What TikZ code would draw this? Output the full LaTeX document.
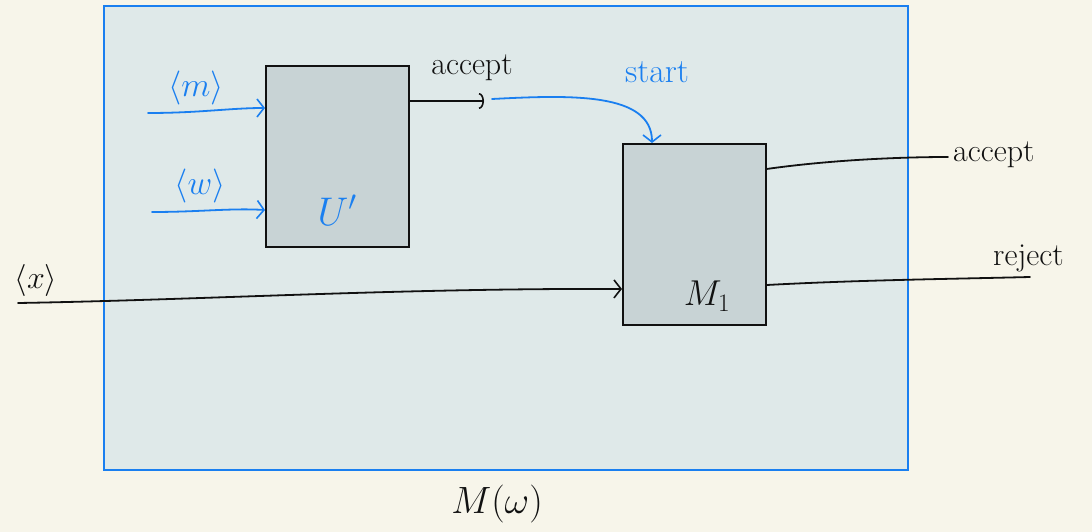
\RequirePackage{fix-cm}
\documentclass[tikz,border=0pt]{standalone}
\usetikzlibrary{arrows.meta}
\definecolor{bgcream}{HTML}{F7F5EA}
\definecolor{outerfill}{HTML}{DFE9E9}
\definecolor{boxfill}{HTML}{C8D3D5}
\definecolor{penblue}{HTML}{1A7FF0}
\definecolor{penblack}{HTML}{111111}
\tikzset{
  machine/.style={draw=penblack, line width=1.6pt, fill=boxfill, minimum width=143pt, minimum height=181pt, inner sep=0pt, anchor=north west},
  bluewire/.style={draw=penblue, line width=1.8pt, line cap=round, -{Straight Barb[length=7pt,width=18pt,line width=1.6pt]}},
  blackwire/.style={draw=penblack, line width=1.8pt, line cap=round},
  blacktip/.style={-{Straight Barb[length=7pt,width=18pt,line width=1.6pt]}},
  bluelbl/.style={text=penblue, font=\fontsize{32}{36}\selectfont, inner sep=1pt},
  blacklbl/.style={text=penblack, font=\fontsize{32}{36}\selectfont, inner sep=1pt},
}
\begin{document}
\begin{tikzpicture}[x=1pt,y=-1pt]
\fill[bgcream] (0,0) rectangle (1092,532);
\useasboundingbox (0,0) rectangle (1092,532);
\node[draw=penblue, line width=2pt, fill=outerfill, minimum width=804pt, minimum height=464pt, inner sep=0pt, anchor=north west] (outer) at (103,5) {};
\node[machine] (U) at (265,65) {};
\node[machine] (M1) at (622,143) {};
% labels inside boxes
\node[bluelbl, font=\fontsize{40}{44}\selectfont] (ulbl) at (337,210) {$U'$};
\node[blacklbl, font=\fontsize{36}{40}\selectfont] (mlbl) at (707,296) {$M_1$};
% inputs to U'
\coordinate (min) at (148,113);
\coordinate (win) at (152,212);
\draw[bluewire] (min) .. controls (200,113) and (230,108) .. (U.west |- 0,108);
\draw[bluewire] (win) .. controls (200,212) and (230,208) .. (U.west |- 0,210);
\node[bluelbl, font=\fontsize{34}{38}\selectfont] (mtxt) at (196,88) {$\langle m\rangle$};
\node[bluelbl, font=\fontsize{34}{38}\selectfont] (wtxt) at (200,186) {$\langle w\rangle$};
% accept of U'
\coordinate (ua) at (U.east |- 0,101);
\coordinate (uaend) at (484,101);
\draw[blackwire, -{Arc Barb[length=5pt,width=16pt,line width=1.6pt]}] (ua) -- (uaend);
\node[blacklbl] (acc1) at (472,68) {accept};
% start arrow
\coordinate (st) at (492,99);
\draw[bluewire] (st) .. controls (570,95) and (652,92) .. (M1.north -| 652,0);
\node[bluelbl, font=\fontsize{34}{38}\selectfont] (start) at (657,72) {start};
% x input
\coordinate (xin) at (18,303);
\draw[blackwire, blacktip] (xin) .. controls (200,300) and (400,288) .. (M1.west |- 0,289);
\node[blacklbl] (xtxt) at (36,280) {$\langle x\rangle$};
% outputs
\coordinate (acc2end) at (948,157);
\coordinate (rejend) at (1030,277);
\draw[blackwire] (M1.east |- 0,169) .. controls (830,160) and (900,157) .. (acc2end);
\draw[blackwire] (M1.east |- 0,285) .. controls (860,280) and (950,279) .. (rejend);
\node[blacklbl, anchor=west] (acc2) at (952,155) {accept};
\node[blacklbl, anchor=west] (rej) at (992,258) {reject};
% caption
\node[blacklbl, font=\fontsize{38}{42}\selectfont] (cap) at (497,504) {$M(\omega)$};
\end{tikzpicture}
\end{document}
